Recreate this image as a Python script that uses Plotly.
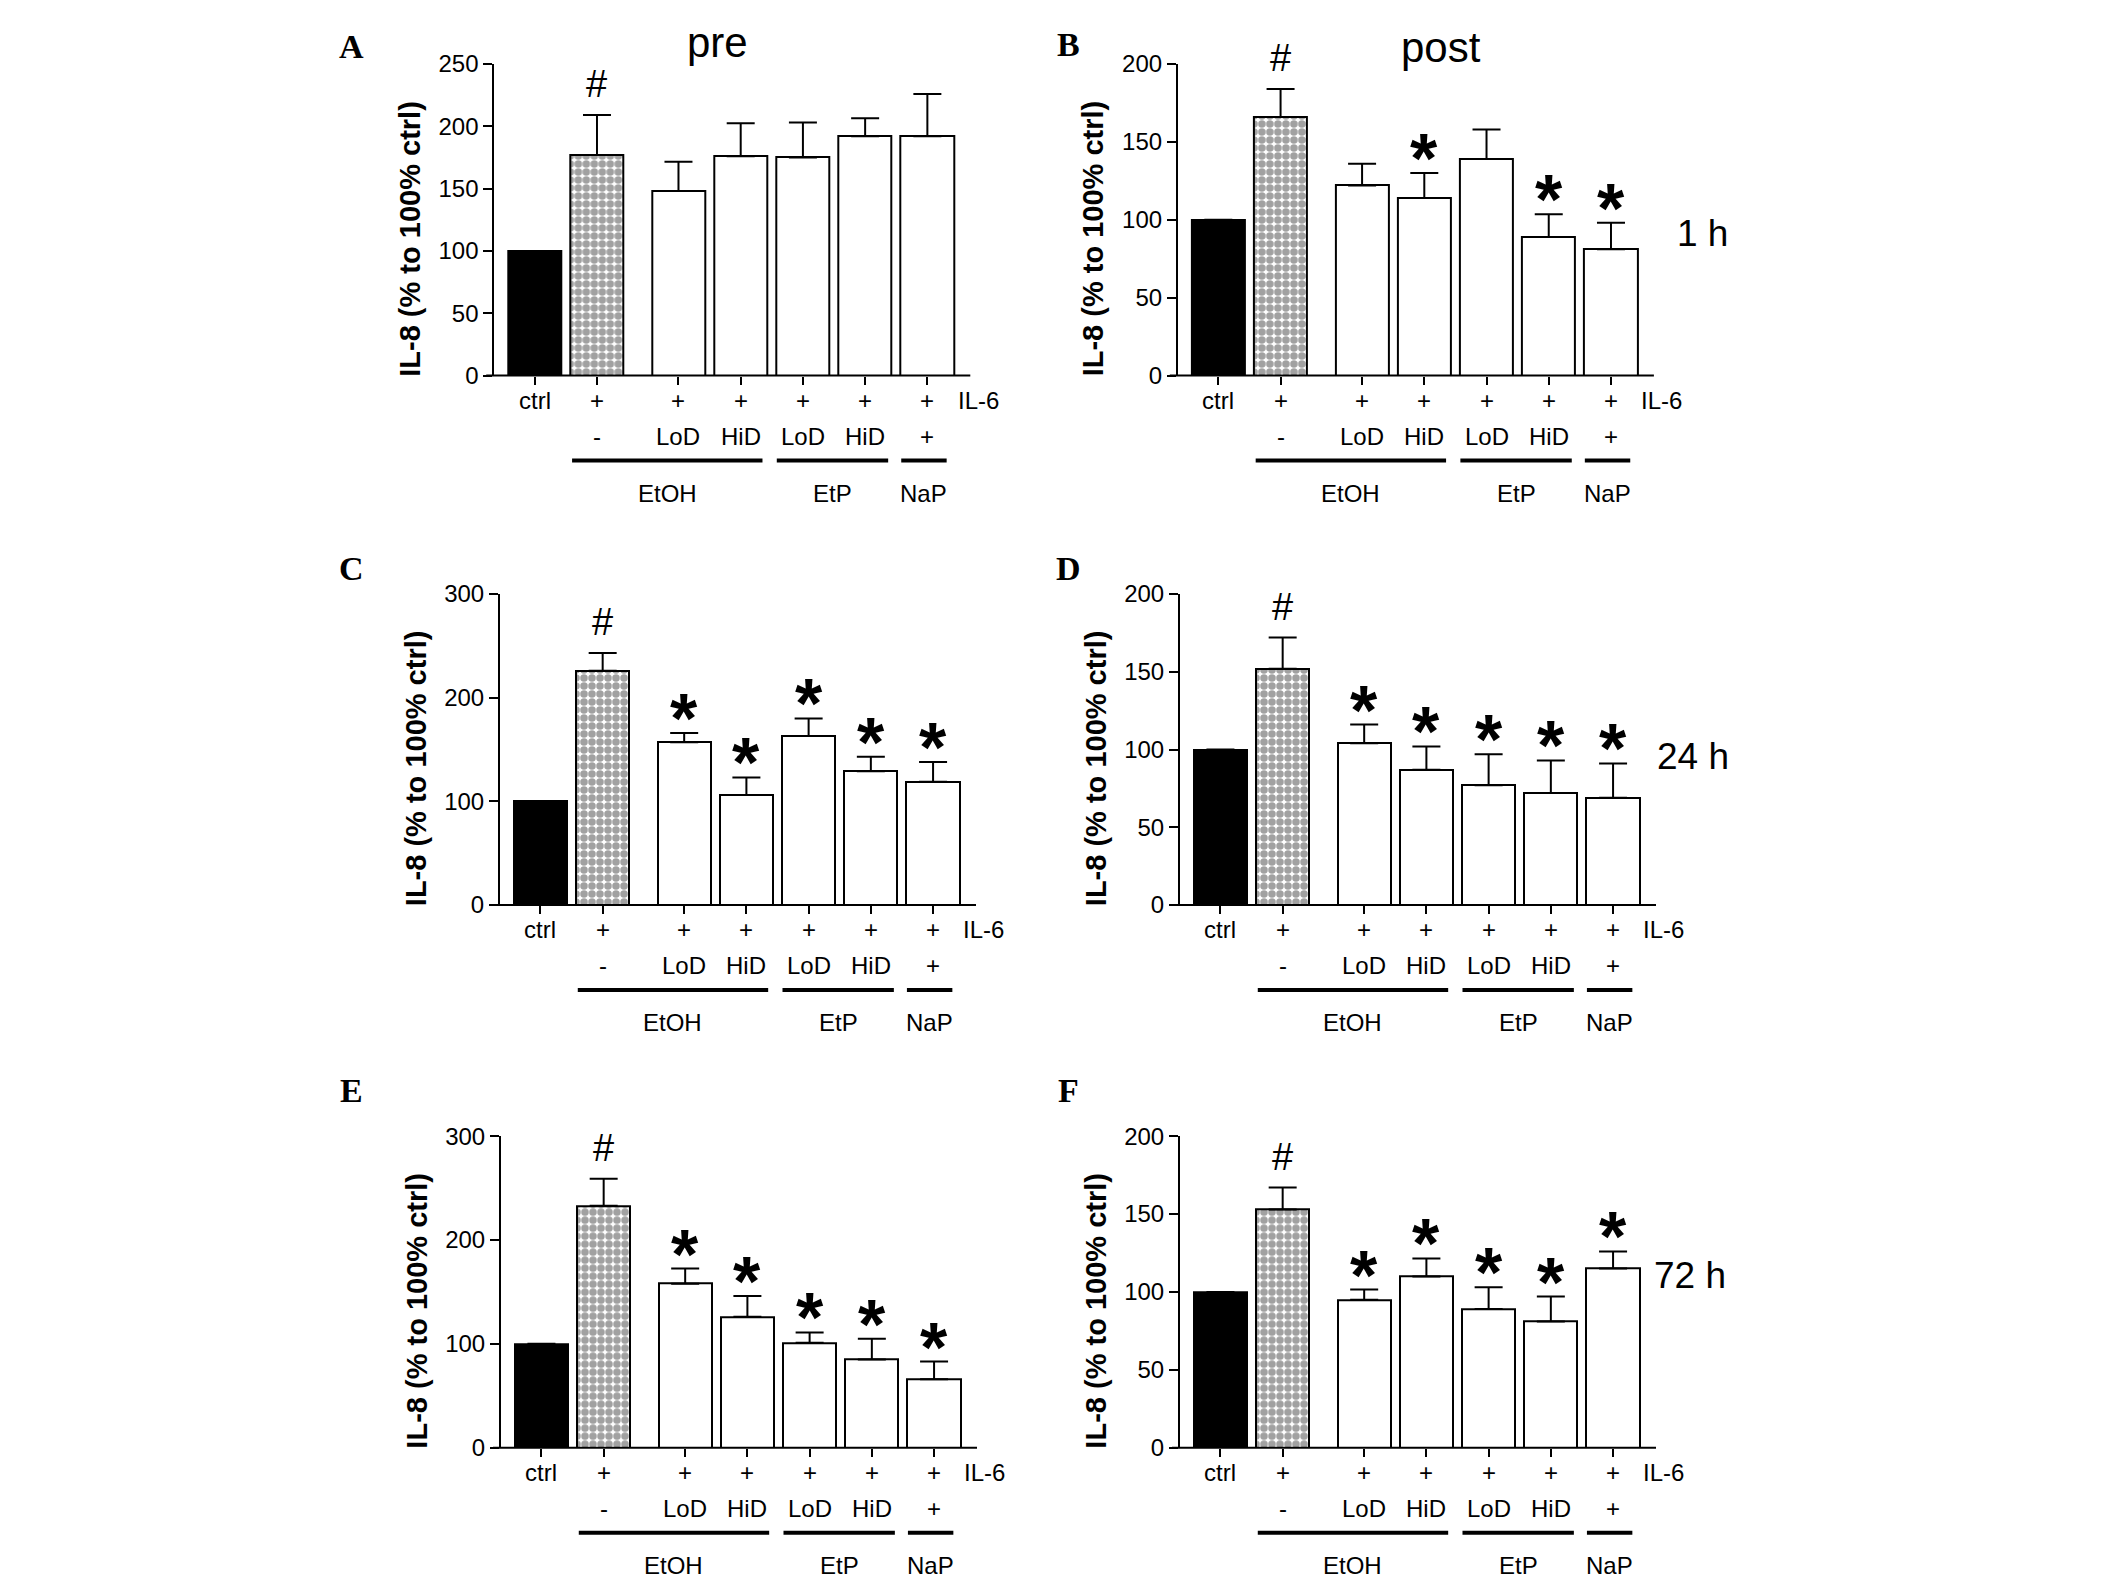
import plotly.graph_objects as go

# bar order: ctrl, IL-6, EtOH LoD, EtOH HiD, EtP LoD, EtP HiD, NaP
xpos = [0, 1, 2.31, 3.31, 4.31, 5.31, 6.31]
il6_labels = ["ctrl", "+", "+", "+", "+", "+", "+"]
dose_labels = ["", "-", "LoD", "HiD", "LoD", "HiD", "+"]
group_names = ["EtOH", "EtP", "NaP"]

a_mean = [100, 177, 148, 176, 175, 192, 192]
a_err = [0, 32, 23.5, 26.5, 28, 14.5, 34]
a_marks = ["", "#", "", "", "", "", ""]

b_mean = [100, 166, 122, 114, 139, 89, 81]
b_err = [0, 18, 14, 16, 19, 14.5, 17]
b_marks = ["", "#", "", "*", "", "*", "*"]

c_mean = [100, 226, 157, 106, 163, 129, 119]
c_err = [0, 17, 9, 17, 17, 14, 19]
c_marks = ["", "#", "*", "*", "*", "*", "*"]

d_mean = [100, 152, 104, 87, 77, 72, 69]
d_err = [0, 20, 12, 15, 20, 21, 22]
d_marks = ["", "#", "*", "*", "*", "*", "*"]

e_mean = [100, 233, 158, 126, 101, 85, 66]
e_err = [0, 26, 14.5, 20, 10, 20, 17]
e_marks = ["", "#", "*", "*", "*", "*", "*"]

f_mean = [100, 153, 95, 110, 89, 81, 115]
f_err = [0, 14, 6.5, 11.5, 14, 16, 11]
f_marks = ["", "#", "*", "*", "*", "*", "*"]

SANS = "Liberation Sans, Arial, sans-serif"
SERIF = "Liberation Serif, Times New Roman, serif"
W, H = 2126, 1582


def px_x(px):
    return px / W


def px_y(py):
    return 1 - py / H


AXW = 476  # x axis length in px
# letter, mean, err, marks, ymax, dtick, y-axis px, top px, bottom px, letter pos
panels = [
    ("A", a_mean, a_err, a_marks, 250, 50, 494.3, 64, 375.5, (351, 46)),
    ("B", b_mean, b_err, b_marks, 200, 50, 1177.9, 64, 375.5, (1068, 45)),
    ("C", c_mean, c_err, c_marks, 300, 100, 500, 594, 905, (351, 568)),
    ("D", d_mean, d_err, d_marks, 200, 50, 1180, 594, 905, (1068, 568)),
    ("E", e_mean, e_err, e_marks, 300, 100, 501, 1136.2, 1447.7, (351, 1090)),
    ("F", f_mean, f_err, f_marks, 200, 50, 1180, 1136.2, 1447.7, (1068, 1090)),
]
titles = {"A": ("pre", 717, 42), "B": ("post", 1441, 47)}
sides = {"B": ("1 h", 1702, 233), "D": ("24 h", 1693, 756), "F": ("72 h", 1690, 1275)}

xr = [-0.65, 7.0]
group_spans = [(0.6, 3.66), (3.89, 5.68), (5.89, 6.62)]

fig = go.Figure()
annotations = []
shapes = []
txt = dict(family=SANS, size=24, color="black")

for i, (letter, mean, err, marks, ymax, dtick, ax_px, top_px, bot_px, lpos) in enumerate(panels):
    n = "" if i == 0 else str(i + 1)
    xa, ya = "x" + n, "y" + n

    def to_paper_x(v):
        return px_x(ax_px + (v - xr[0]) / (xr[1] - xr[0]) * AXW)

    fig.add_trace(go.Bar(
        x=xpos, y=mean, width=0.855, xaxis=xa, yaxis=ya, showlegend=False,
        marker=dict(
            color=["black"] + ["white"] * 6,
            line=dict(color="black", width=2),
            pattern=dict(shape=["", "."] + [""] * 5, fgcolor="black",
                         size=8, solidity=0.7),
        ),
        error_y=dict(type="data", symmetric=False, array=err,
                     arrayminus=[0] * 7, color="black", thickness=2, width=14),
    ))

    fig.update_layout({
        "xaxis" + n: dict(domain=[px_x(ax_px), px_x(ax_px + AXW)], range=xr, anchor=ya,
                          showgrid=False, zeroline=False, showline=False,
                          automargin=False, tickvals=xpos, showticklabels=False,
                          ticks="outside", ticklen=8, tickwidth=2, tickcolor="black"),
        "yaxis" + n: dict(domain=[px_y(bot_px), px_y(top_px)], range=[0, ymax],
                          dtick=dtick, anchor=xa, showgrid=False, zeroline=False,
                          automargin=False, showline=True, linecolor="black",
                          linewidth=2, ticks="outside", ticklen=9, tickwidth=2,
                          tickcolor="black", tickfont=txt),
    })

    # x axis line, running a little left of the y axis
    shapes.append(dict(type="line", xref="paper", yref="paper",
                       x0=to_paper_x(-0.78), x1=to_paper_x(7.0),
                       y0=px_y(bot_px), y1=px_y(bot_px),
                       line=dict(color="black", width=2)))

    # significance marks
    for x, m, e, mk in zip(xpos, mean, err, marks):
        if mk == "#":
            annotations.append(dict(xref=xa, yref=ya, x=x, y=m + e, text="#",
                                    showarrow=False, yanchor="middle", yshift=31,
                                    font=dict(family=SANS, size=38, color="black")))
        elif mk == "*":
            annotations.append(dict(xref=xa, yref=ya, x=x, y=m + e, text="*",
                                    showarrow=False, yanchor="middle", yshift=14,
                                    font=dict(family=SANS, size=70, color="black",
                                              weight="bold")))

    # label rows under the axis
    for x, lab, dose in zip(xpos, il6_labels, dose_labels):
        annotations.append(dict(xref=xa, yref=ya, x=x, y=0, text=lab, showarrow=False,
                                yanchor="middle", yshift=-25, font=txt))
        if dose:
            annotations.append(dict(xref=xa, yref=ya, x=x, y=0, text=dose,
                                    showarrow=False, yanchor="middle", yshift=-61,
                                    font=txt))
    annotations.append(dict(xref=xa, yref=ya, x=6.78, y=0, text="IL-6", showarrow=False,
                            xanchor="left", yanchor="middle", yshift=-25, borderpad=0,
                            font=txt))

    # group bars and names
    for (g0, g1), name in zip(group_spans, group_names):
        shapes.append(dict(type="line", xref="paper", yref="paper",
                           x0=to_paper_x(g0), x1=to_paper_x(g1),
                           y0=px_y(bot_px + 85), y1=px_y(bot_px + 85),
                           line=dict(color="black", width=4)))
        annotations.append(dict(xref=xa, yref=ya, x=(g0 + g1) / 2, y=0, text=name,
                                showarrow=False, yanchor="middle", yshift=-118,
                                font=txt))

    # y axis title
    annotations.append(dict(xref=xa + " domain", yref=ya + " domain", x=0, y=0.44,
                            xshift=-84, text="IL-8 (% to 100% ctrl)", textangle=-90,
                            showarrow=False, xanchor="center", yanchor="middle",
                            font=dict(family=SANS, size=29, color="black", weight="bold")))

    # panel letter
    annotations.append(dict(xref="paper", yref="paper", x=px_x(lpos[0]), y=px_y(lpos[1]),
                            text=letter, showarrow=False, xanchor="center",
                            yanchor="middle",
                            font=dict(family=SERIF, size=34, color="black", weight="bold")))

    if letter in titles:
        t, tx, ty = titles[letter]
        annotations.append(dict(xref="paper", yref="paper", x=px_x(tx), y=px_y(ty),
                                text=t, showarrow=False, xanchor="center",
                                yanchor="middle",
                                font=dict(family=SANS, size=42, color="black")))
    if letter in sides:
        t, sx, sy = sides[letter]
        annotations.append(dict(xref="paper", yref="paper", x=px_x(sx), y=px_y(sy),
                                text=t, showarrow=False, xanchor="center",
                                yanchor="middle",
                                font=dict(family=SANS, size=37, color="black")))

fig.update_layout(
    width=W, height=H,
    margin=dict(l=0, r=0, t=0, b=0, pad=0, autoexpand=False),
    paper_bgcolor="white", plot_bgcolor="white",
    bargap=0,
    annotations=annotations, shapes=shapes,
)

# pin the figure to the page corner so nothing overflows the window
pin = ("var d=document.getElementById('{plot_id}');"
       "d.style.position='absolute';d.style.left='0px';d.style.top='0px';"
       "document.body.style.margin='0px';document.body.style.overflow='hidden';")
fig.write_html("out.html", post_script=pin, config={"displayModeBar": False})
